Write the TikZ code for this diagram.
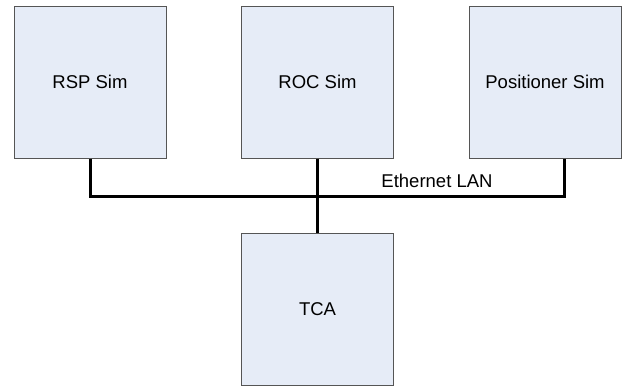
\documentclass[tikz,border=0pt]{standalone}
\usepackage{fontspec}
\setmainfont{Liberation Sans}
\usepackage{tikz}

\definecolor{boxfill}{HTML}{E6ECF7}
\definecolor{boxline}{HTML}{555555}

\begin{document}
\begin{tikzpicture}[x=1pt,y=-1pt,
        font=\fontsize{18.5}{22}\selectfont,
        sim/.style={draw=boxline,fill=boxfill,line width=1pt,minimum size=152pt,inner sep=0pt},
        lan/.style={line width=3pt,black}]

    \useasboundingbox (0,0) rectangle (623,388);

    \node[sim] (rsp) at (90,82)    {RSP Sim};
    \node[sim] (roc) at (317.5,82) {ROC Sim};
    \node[sim] (pos) at (545,82)   {Positioner Sim};
    \node[sim] (tca) at (317.5,309.5) {TCA};

    % shared LAN line
    \coordinate (bus) at (317.5,196);
    \coordinate (posdrop) at ([xshift=19.5pt]pos.south);
    \draw[lan] (rsp.south) |- (bus) -| (posdrop);
    \draw[lan] (roc.south) -- (tca.north);
    \node (eth) at (437,181) {Ethernet LAN};
\end{tikzpicture}
\end{document}
